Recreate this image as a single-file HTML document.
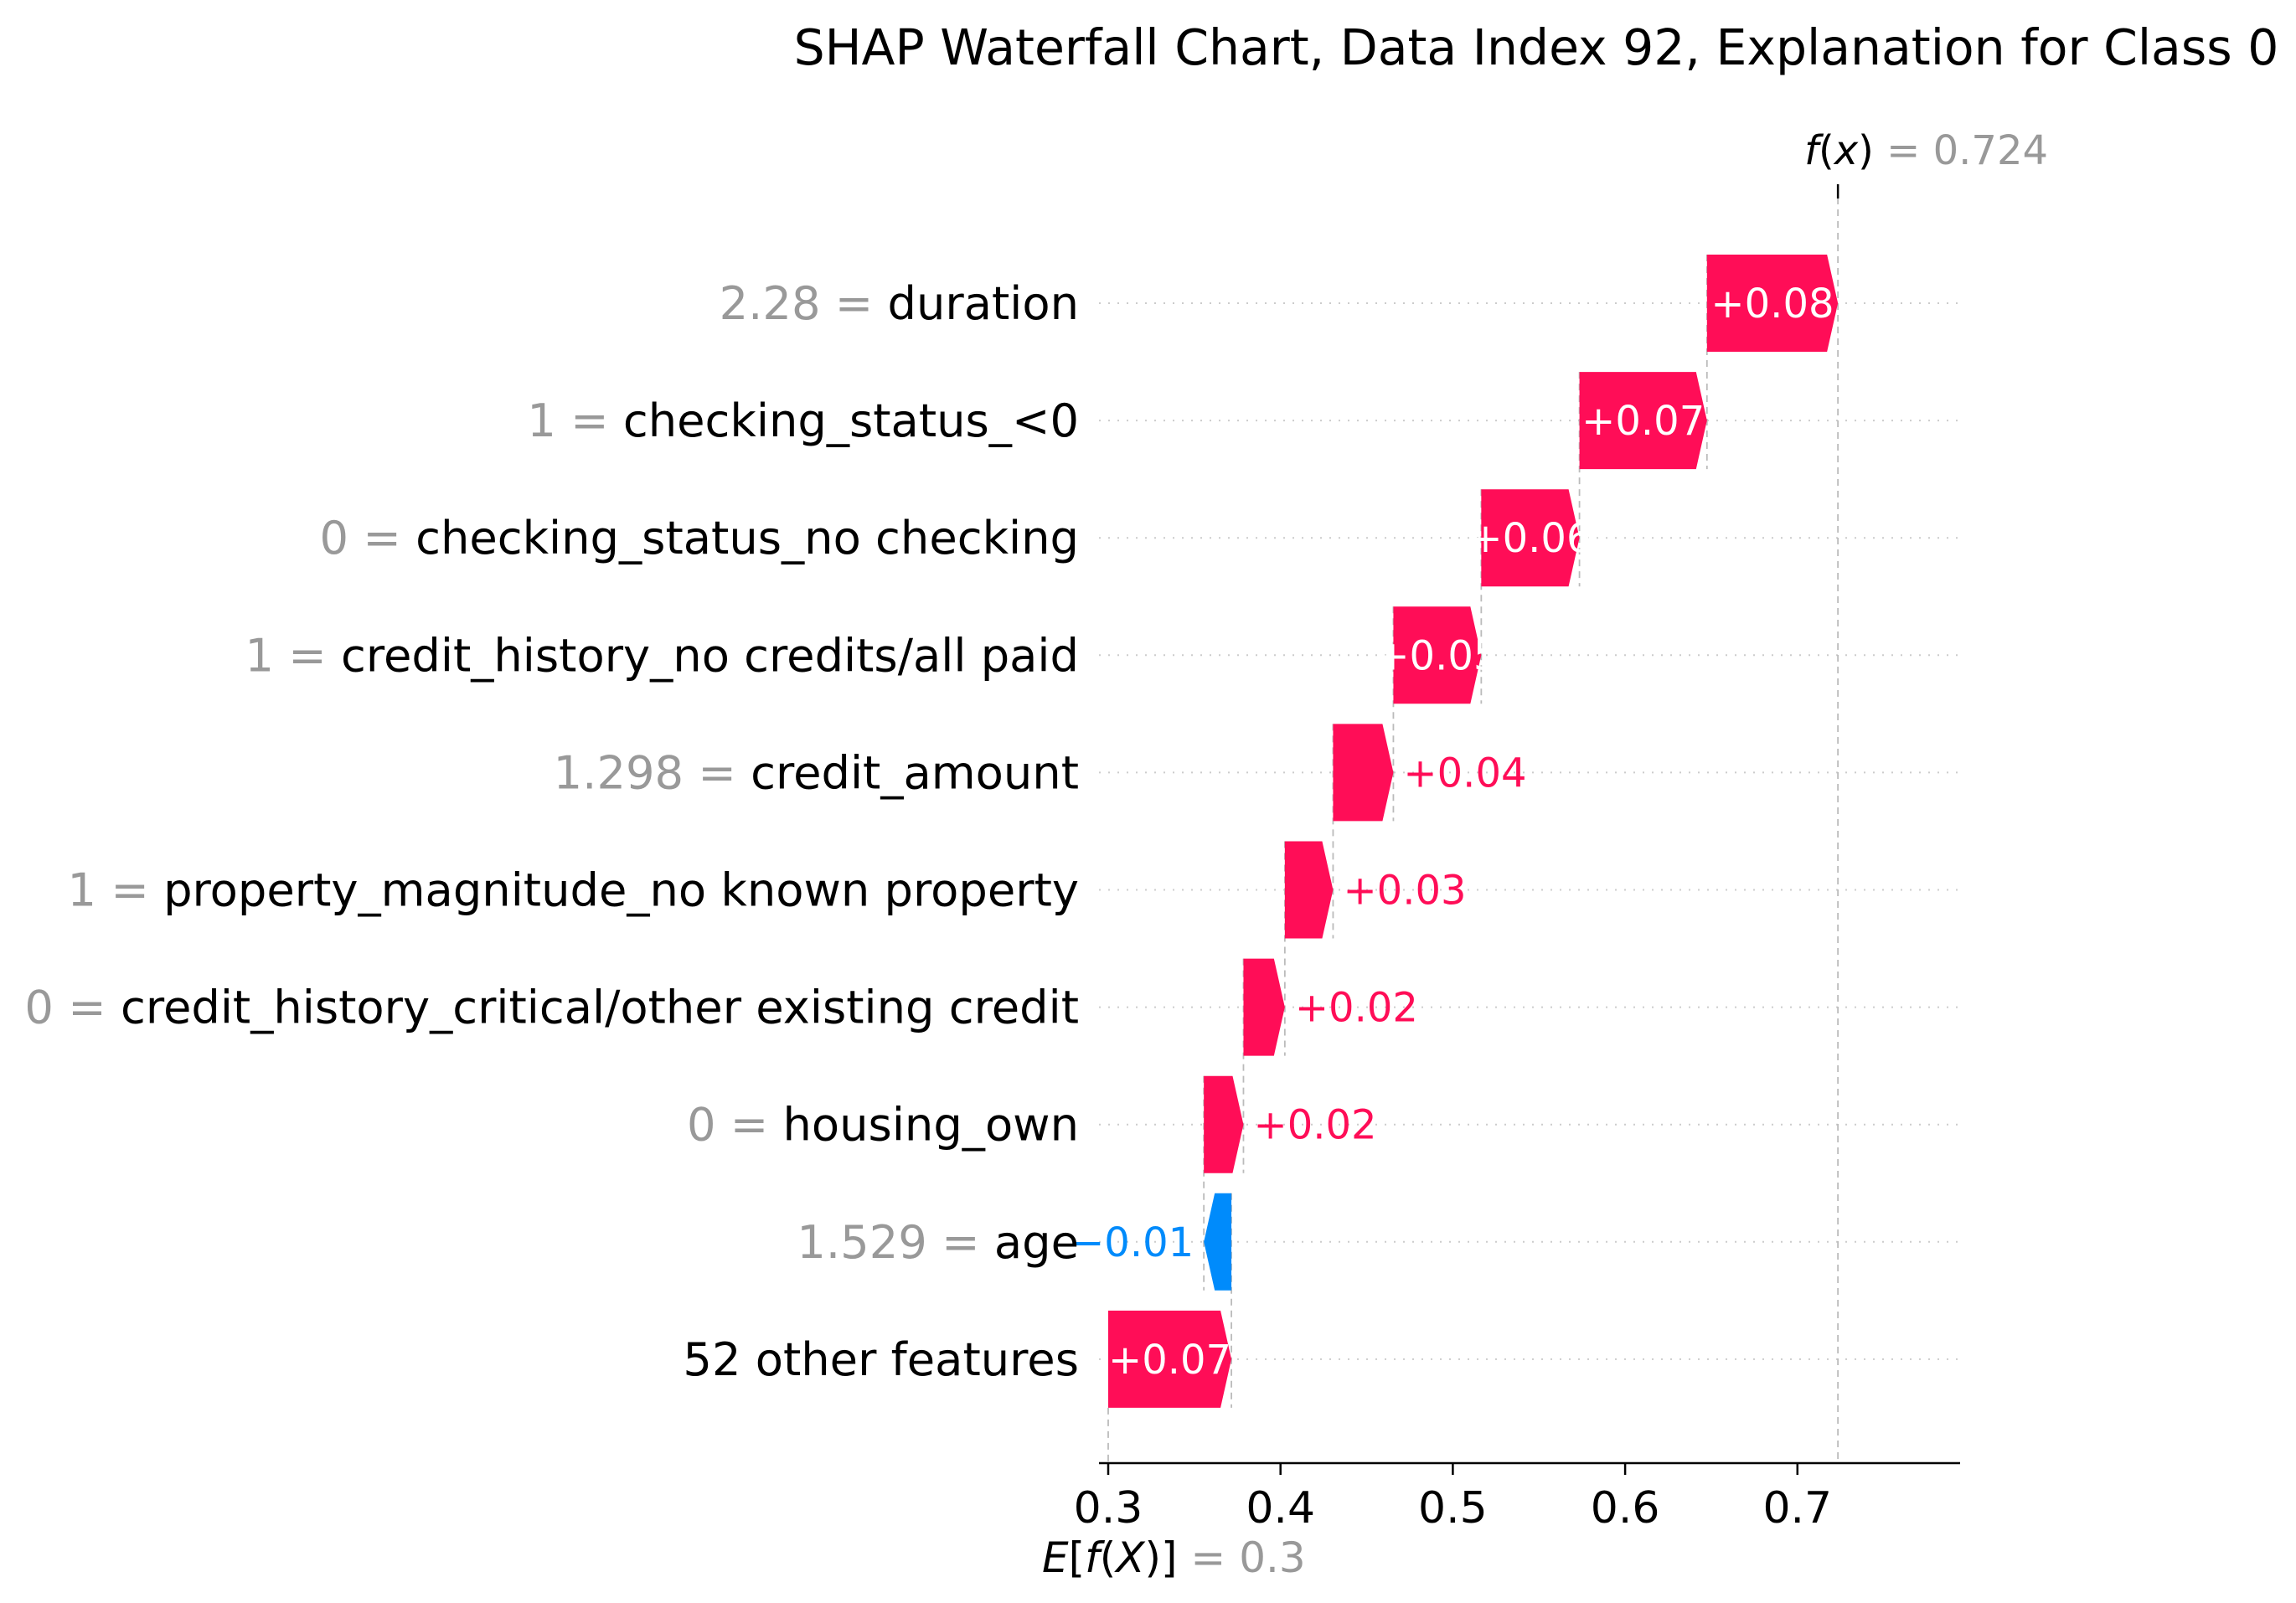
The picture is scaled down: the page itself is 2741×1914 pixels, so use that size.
<!DOCTYPE html>
<html><head><meta charset="utf-8"><style>
html,body{margin:0;padding:0;background:#fff;}
svg{display:block;font-family:"DejaVu Sans","Liberation Sans",sans-serif;}
</style></head><body>
<svg id="chart" width="2741" height="1914" viewBox="0 0 2741 1914" xmlns="http://www.w3.org/2000/svg">
<text x="1834" y="77" font-size="58.4" text-anchor="middle" fill="#000">SHAP Waterfall Chart, Data Index 92, Explanation for Class 0</text>
</svg>
<script>
const featureValues = ["2.28","1","0","1","1.298","1","0","0","1.529",""];
const featureNames = ["duration","checking_status_<0","checking_status_no checking","credit_history_no credits/all paid","credit_amount","property_magnitude_no known property","credit_history_critical/other existing credit","housing_own","age","52 other features"];
const shapValues = [0.076,0.074,0.057,0.051,0.035,0.028,0.024,0.023,-0.016,0.0715];
const valueLabels = ["+0.08","+0.07","+0.06","+0.05","+0.04","+0.03","+0.02","+0.02","\u22120.01","+0.07"];
const baseValue = 0.3;
const tickValues = [0.3,0.4,0.5,0.6,0.7];
const tickLabels = ["0.3","0.4","0.5","0.6","0.7"];

const svg = document.getElementById('chart');
const NS = 'http://www.w3.org/2000/svg';
const x = v => 1323 + (v - 0.3) * 2057;
const rowY = i => 362 + i * 140.1;
const halfH = 58, head = 13, axisY = 1747;
const PINK = '#ff0d57', BLUE = '#008bfb';
function mk(tag, attrs){const e=document.createElementNS(NS,tag);for(const k in attrs)e.setAttribute(k,attrs[k]);svg.appendChild(e);return e;}

const n = shapValues.length;
const starts = new Array(n), ends = new Array(n);
let cur = baseValue;
for (let i = n - 1; i >= 0; i--) { starts[i] = cur; cur += shapValues[i]; ends[i] = cur; }
const fx = cur;

for (let i = 0; i < n; i++) {
  const g = mk('line',{x1:1312,x2:2340,y1:rowY(i),y2:rowY(i),stroke:'#ccc','stroke-width':2,'stroke-dasharray':'2 9'});
  
  
}
const fl = mk('line',{x1:x(fx),x2:x(fx),y1:236,y2:axisY,stroke:'#bbb','stroke-width':1.8,'stroke-dasharray':'8 6'});


const ft = mk('line',{x1:x(fx),x2:x(fx),y1:220,y2:237,stroke:'#000','stroke-width':2.5});


const bl = mk('line',{x1:x(baseValue),x2:x(baseValue),y1:rowY(n-1)+halfH,y2:axisY,stroke:'#bbb','stroke-width':1.8,'stroke-dasharray':'8 6'});


for (let i = 0; i < n - 1; i++) {
  const c = mk('line',{x1:x(ends[i+1]),x2:x(ends[i+1]),y1:rowY(i)-halfH,y2:rowY(i+1)+halfH,stroke:'#bbb','stroke-width':1.8,'stroke-dasharray':'8 6'});
  
  
}
for (let i = 0; i < n; i++) {
  const y = rowY(i), s = x(starts[i]), e = x(ends[i]);
  const pos = shapValues[i] >= 0;
  const w = Math.abs(e - s), h = Math.min(head, w);
  let pts;
  if (pos) pts = [[s,y-halfH],[e-h,y-halfH],[e,y],[e-h,y+halfH],[s,y+halfH]];
  else pts = [[s,y-halfH],[e+h,y-halfH],[e,y],[e+h,y+halfH],[s,y+halfH]];
  const p = mk('polygon',{points:pts.map(q=>q.join(',')).join(' '),fill:pos?PINK:BLUE});
  
  
  const inside = Math.abs(shapValues[i]) >= 0.045;
  let t;
  if (inside) t = mk('text',{x:(s+e)/2,y:y+17,'font-size':48,'text-anchor':'middle',fill:'#fff'});
  else if (pos) t = mk('text',{x:e+12,y:y+17,'font-size':48,'text-anchor':'start',fill:PINK});
  else t = mk('text',{x:e-12,y:y+17,'font-size':48,'text-anchor':'end',fill:BLUE});
  t.textContent = valueLabels[i];
  
  
  const lb = mk('text',{x:1288,y:y+19,'font-size':54.3,'text-anchor':'end',fill:'#000'});
  
  
  if (featureValues[i] !== '') {
    const sp = document.createElementNS(NS,'tspan'); sp.setAttribute('fill','#999'); sp.textContent = featureValues[i] + ' = ';
    lb.appendChild(sp);
  }
  const sp2 = document.createElementNS(NS,'tspan'); sp2.textContent = featureNames[i]; lb.appendChild(sp2);
}
const ax = mk('line',{x1:1312,x2:2340,y1:axisY,y2:axisY,stroke:'#000','stroke-width':2.5});


for (let i = 0; i < tickValues.length; i++) {
  const tx = x(tickValues[i]);
  const tk = mk('line',{x1:tx,x2:tx,y1:axisY,y2:axisY+14,stroke:'#000','stroke-width':2.5});
  
  
  const tl = mk('text',{x:tx,y:1818,'font-size':52,'text-anchor':'middle',fill:'#000'});
  tl.textContent = tickLabels[i];
  
  
}
const fxl = mk('text',{x:x(fx)-40,y:196,'font-size':48,fill:'#000'});


fxl.innerHTML = '<tspan font-style="italic">f</tspan>(<tspan font-style="italic">x</tspan>) <tspan fill="#999">= ' + fx.toFixed(3) + '</tspan>';
const el = mk('text',{x:1244,y:1877,'font-size':50,fill:'#000'});


el.innerHTML = '<tspan font-style="italic">E</tspan>[<tspan font-style="italic">f</tspan>(<tspan font-style="italic">X</tspan>)] <tspan fill="#999">= ' + baseValue + '</tspan>';
</script>
</body></html>
